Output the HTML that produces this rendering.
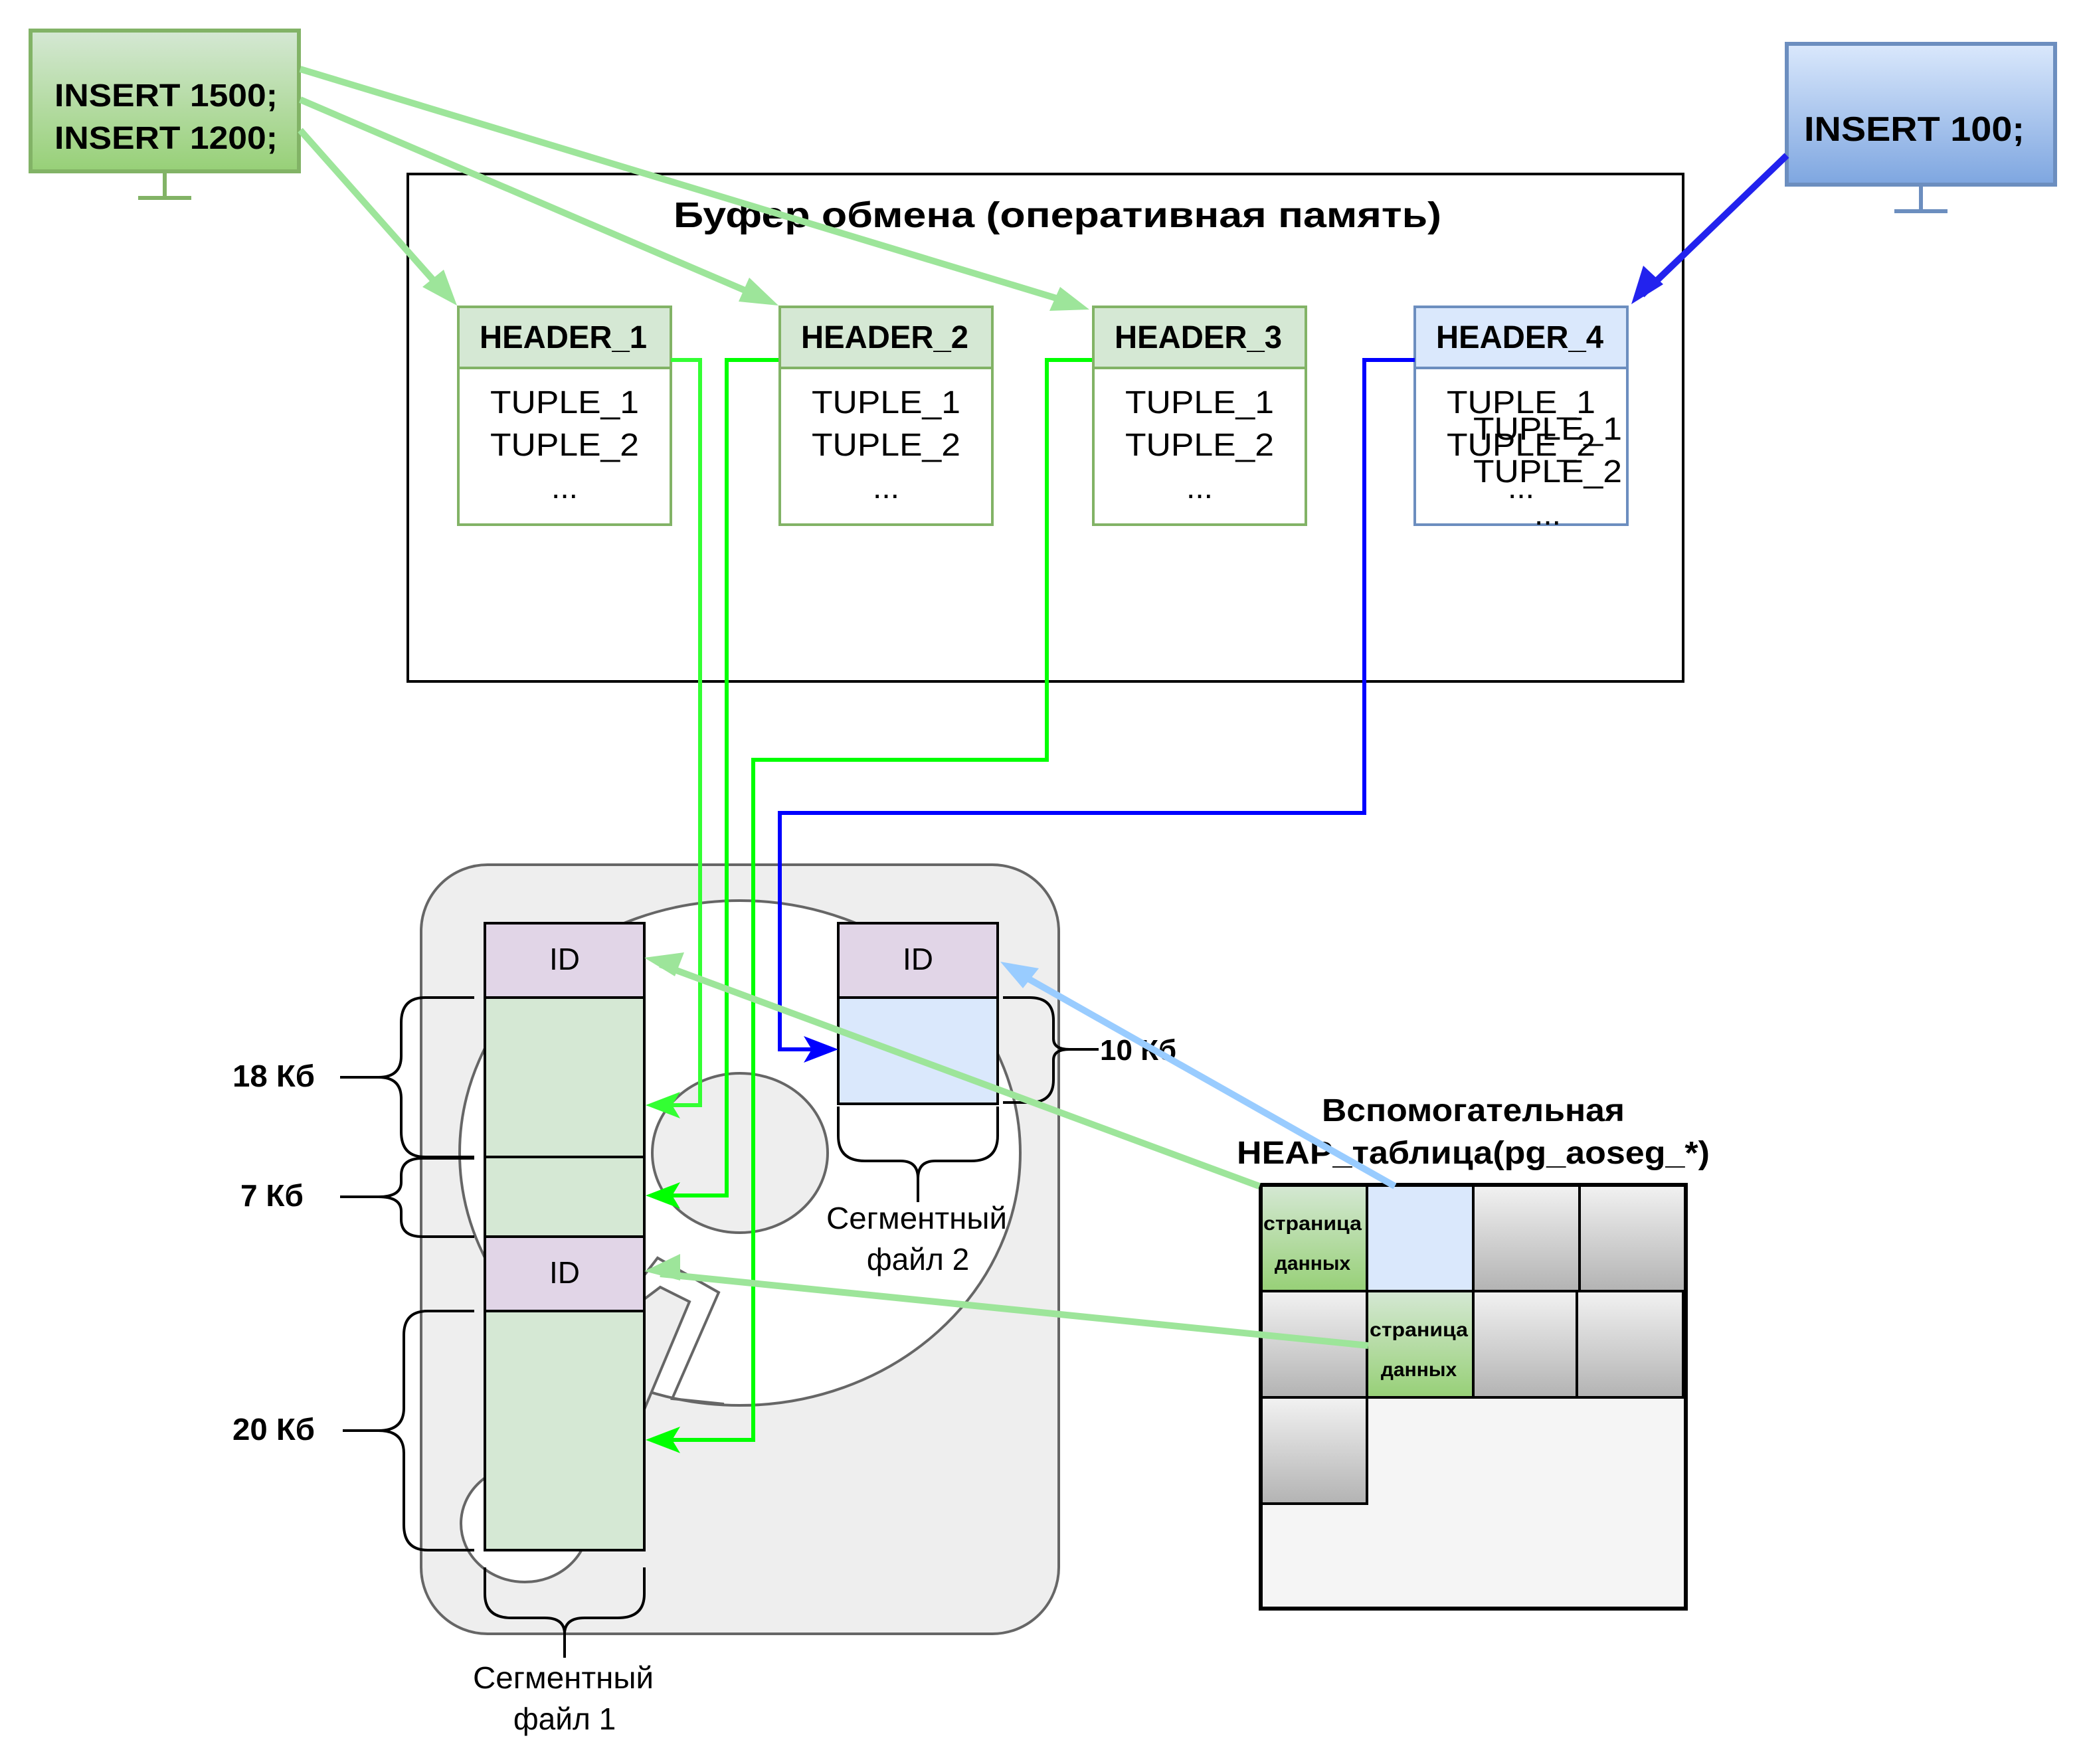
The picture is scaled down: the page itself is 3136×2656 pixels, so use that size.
<!DOCTYPE html>
<html><head><meta charset="utf-8"><style>html,body{margin:0;padding:0;background:#fff}svg{display:block}text{font-family:"Liberation Sans",sans-serif}</style></head><body>
<svg width="3136" height="2656" viewBox="0 0 1568 1328" xmlns="http://www.w3.org/2000/svg">
<defs>
<linearGradient id="gg" x1="0" y1="0" x2="0" y2="1"><stop offset="0" stop-color="#d5e8d4"/><stop offset="1" stop-color="#97d077"/></linearGradient>
<linearGradient id="gb" x1="0" y1="0" x2="0" y2="1"><stop offset="0" stop-color="#dae8fc"/><stop offset="1" stop-color="#7ea6e0"/></linearGradient>
<linearGradient id="gr" x1="0" y1="0" x2="0" y2="1"><stop offset="0" stop-color="#f2f2f2"/><stop offset="1" stop-color="#b3b3b3"/></linearGradient>
</defs>
<rect x="307" y="131" width="960" height="382" fill="#fff" stroke="#000" stroke-width="2"/>
<text x="507" y="171" font-size="27" font-weight="bold" textLength="578" lengthAdjust="spacingAndGlyphs">Буфер обмена (оперативная память)</text>
<g font-size="24">
<g><rect x="345" y="231" width="160" height="164" fill="#fff" stroke="#82b366" stroke-width="2"/><rect x="345" y="231" width="160" height="46" fill="#d5e8d4" stroke="#82b366" stroke-width="2"/>
<text x="361" y="262" font-weight="bold" textLength="126" lengthAdjust="spacingAndGlyphs">HEADER_1</text><text x="369" y="311" textLength="112" lengthAdjust="spacingAndGlyphs">TUPLE_1</text><text x="369" y="343" textLength="112" lengthAdjust="spacingAndGlyphs">TUPLE_2</text><text x="425" y="375" text-anchor="middle">...</text></g>
<g><rect x="587" y="231" width="160" height="164" fill="#fff" stroke="#82b366" stroke-width="2"/><rect x="587" y="231" width="160" height="46" fill="#d5e8d4" stroke="#82b366" stroke-width="2"/>
<text x="603" y="262" font-weight="bold" textLength="126" lengthAdjust="spacingAndGlyphs">HEADER_2</text><text x="611" y="311" textLength="112" lengthAdjust="spacingAndGlyphs">TUPLE_1</text><text x="611" y="343" textLength="112" lengthAdjust="spacingAndGlyphs">TUPLE_2</text><text x="667" y="375" text-anchor="middle">...</text></g>
<g><rect x="823" y="231" width="160" height="164" fill="#fff" stroke="#82b366" stroke-width="2"/><rect x="823" y="231" width="160" height="46" fill="#d5e8d4" stroke="#82b366" stroke-width="2"/>
<text x="839" y="262" font-weight="bold" textLength="126" lengthAdjust="spacingAndGlyphs">HEADER_3</text><text x="847" y="311" textLength="112" lengthAdjust="spacingAndGlyphs">TUPLE_1</text><text x="847" y="343" textLength="112" lengthAdjust="spacingAndGlyphs">TUPLE_2</text><text x="903" y="375" text-anchor="middle">...</text></g>
<g><rect x="1065" y="231" width="160" height="164" fill="#fff" stroke="#6c8ebf" stroke-width="2"/><rect x="1065" y="231" width="160" height="46" fill="#dae8fc" stroke="#6c8ebf" stroke-width="2"/>
<text x="1081" y="262" font-weight="bold" textLength="126" lengthAdjust="spacingAndGlyphs">HEADER_4</text><text x="1089" y="311" textLength="112" lengthAdjust="spacingAndGlyphs">TUPLE_1</text><text x="1089" y="343" textLength="112" lengthAdjust="spacingAndGlyphs">TUPLE_2</text><text x="1145" y="375" text-anchor="middle">...</text>
<text x="1109" y="331" textLength="112" lengthAdjust="spacingAndGlyphs">TUPLE_1</text><text x="1109" y="363" textLength="112" lengthAdjust="spacingAndGlyphs">TUPLE_2</text><text x="1165" y="395" text-anchor="middle">...</text></g>
</g>
<rect x="23" y="23" width="202" height="106" fill="url(#gg)" stroke="#82b366" stroke-width="3"/>
<line x1="124" y1="129" x2="124" y2="149" stroke="#82b366" stroke-width="3"/><line x1="104" y1="149" x2="144" y2="149" stroke="#82b366" stroke-width="3"/>
<text x="41" y="80" font-size="24" font-weight="bold" textLength="168" lengthAdjust="spacingAndGlyphs">INSERT 1500;</text>
<text x="41" y="112" font-size="24" font-weight="bold" textLength="168" lengthAdjust="spacingAndGlyphs">INSERT 1200;</text>
<rect x="1345" y="33" width="202" height="106" fill="url(#gb)" stroke="#6c8ebf" stroke-width="3"/>
<line x1="1446" y1="139" x2="1446" y2="159" stroke="#6c8ebf" stroke-width="3"/><line x1="1426" y1="159" x2="1466" y2="159" stroke="#6c8ebf" stroke-width="3"/>
<text x="1358" y="106" font-size="26" font-weight="bold" textLength="166" lengthAdjust="spacingAndGlyphs">INSERT 100;</text>
<rect x="317" y="651" width="480" height="579" rx="50" fill="#eeeeee" stroke="#666" stroke-width="2"/>
<ellipse cx="557" cy="868" rx="211" ry="190" fill="#fff" stroke="#666" stroke-width="2"/>
<ellipse cx="557" cy="868" rx="66" ry="60" fill="#eeeeee" stroke="#666" stroke-width="2"/>
<ellipse cx="395" cy="1147" rx="48" ry="44" fill="#fff" stroke="#666" stroke-width="2"/>
<polygon points="485,1065 485,978 497,969 519,980 485,1061" fill="#eeeeee" stroke="#666" stroke-width="2"/>
<polyline points="485,960 495,947 541,973 506,1053 545,1057" fill="none" stroke="#666" stroke-width="2"/>
<g stroke="#000" stroke-width="2">
<rect x="365" y="695" width="120" height="56" fill="#e1d5e7"/>
<rect x="365" y="751" width="120" height="120" fill="#d5e8d4"/>
<rect x="365" y="871" width="120" height="60" fill="#d5e8d4"/>
<rect x="365" y="931" width="120" height="56" fill="#e1d5e7"/>
<rect x="365" y="987" width="120" height="180" fill="#d5e8d4"/>
<rect x="631" y="695" width="120" height="56" fill="#e1d5e7"/>
<rect x="631" y="751" width="120" height="80" fill="#dae8fc"/>
</g>
<text x="425" y="730" font-size="23" text-anchor="middle">ID</text>
<text x="425" y="966" font-size="23" text-anchor="middle">ID</text>
<text x="691" y="730" font-size="23" text-anchor="middle">ID</text>
<g fill="none" stroke="#000" stroke-width="2">
<path d="M357,751 H320 Q302,751 302,770 V795 Q302,811 285,811 H256 M285,811 Q302,811 302,827 V852 Q302,871 320,871 H357"/>
<path d="M357,872 H318 Q302,872 302,885 V890 Q302,901 285,901 H256 M285,901 Q302,901 302,912 V918 Q302,931 318,931 H357"/>
<path d="M357,987 H322 Q304,987 304,1005 V1060 Q304,1077 285,1077 H258 M285,1077 Q304,1077 304,1094 V1148 Q304,1167 322,1167 H357"/>
<path d="M365,1180 V1200 Q365,1218 385,1218 H410 Q425,1218 425,1230 V1248 M425,1230 Q425,1218 440,1218 H465 Q485,1218 485,1200 V1180"/>
<path d="M631,833 V855 Q631,874 651,874 H678 Q691,874 691,887 V905 M691,887 Q691,874 704,874 H731 Q751,874 751,855 V833"/>
<path d="M755,751 H775 Q793,751 793,768 V782 Q793,790 805,790 H827 M805,790 Q793,790 793,798 V813 Q793,830 775,830 H755"/>
</g>
<text x="175" y="818" font-size="23" font-weight="bold" textLength="62" lengthAdjust="spacingAndGlyphs">18 Кб</text>
<text x="181" y="908" font-size="23" font-weight="bold">7 Кб</text>
<text x="175" y="1084" font-size="23" font-weight="bold" textLength="62" lengthAdjust="spacingAndGlyphs">20 Кб</text>
<text x="828" y="798" font-size="22" font-weight="bold">10 Кб</text>
<text x="356" y="1271" font-size="23" textLength="136" lengthAdjust="spacingAndGlyphs">Сегментный</text>
<text x="425" y="1302" font-size="23" text-anchor="middle">файл 1</text>
<text x="622" y="925" font-size="23" textLength="136" lengthAdjust="spacingAndGlyphs">Сегментный</text>
<text x="691" y="956" font-size="23" text-anchor="middle">файл 2</text>
<text x="995" y="844" font-size="24" font-weight="bold" textLength="228" lengthAdjust="spacingAndGlyphs">Вспомогательная</text>
<text x="931" y="876" font-size="24" font-weight="bold" textLength="356" lengthAdjust="spacingAndGlyphs">HEAP_таблица(pg_aoseg_*)</text>
<rect x="949" y="892" width="320" height="319" fill="#f5f5f5" stroke="#000" stroke-width="3"/>
<g stroke="#000" stroke-width="2">
<rect x="949" y="892" width="80" height="80" fill="url(#gg)"/>
<rect x="1029" y="892" width="80" height="80" fill="#dae8fc"/>
<rect x="1109" y="892" width="80" height="80" fill="url(#gr)"/>
<rect x="1189" y="892" width="80" height="80" fill="url(#gr)"/>
<rect x="949" y="972" width="80" height="80" fill="url(#gr)"/>
<rect x="1029" y="972" width="80" height="80" fill="url(#gg)"/>
<rect x="1109" y="972" width="78" height="80" fill="url(#gr)"/>
<rect x="1187" y="972" width="80" height="80" fill="url(#gr)"/>
<rect x="949" y="1052" width="80" height="80" fill="url(#gr)"/>
</g>
<rect x="949" y="892" width="320" height="319" fill="none" stroke="#000" stroke-width="3"/>
<g font-size="15" font-weight="bold">
<text x="951" y="926" textLength="74" lengthAdjust="spacingAndGlyphs">страница</text><text x="988" y="956" text-anchor="middle">данных</text>
<text x="1031" y="1006" textLength="74" lengthAdjust="spacingAndGlyphs">страница</text><text x="1068" y="1036" text-anchor="middle">данных</text>
</g>
<g fill="none" stroke-width="3">
<polyline points="505,271 527,271 527,832 495,832" stroke="#33ff33"/>
<polyline points="586,271 547,271 547,900 495,900" stroke="#00ff00"/>
<polyline points="822,271 788,271 788,572 567,572 567,1084 495,1084" stroke="#00ff00"/>
<polyline points="1065,271 1027,271 1027,612 587,612 587,790 620,790" stroke="#0000ff"/>
</g>
<g stroke-width="5" fill="none">
<line x1="226" y1="52" x2="810" y2="229" stroke="#9de59a"/>
<line x1="226" y1="75" x2="578" y2="226" stroke="#9de59a"/>
<line x1="226" y1="98" x2="336" y2="222" stroke="#9de59a"/>
<line x1="1345" y1="117" x2="1236" y2="222" stroke="#2222ee"/>
<line x1="948" y1="893" x2="497" y2="726" stroke="#9de59a"/>
<line x1="1030" y1="1013" x2="497" y2="959" stroke="#9de59a"/>
<line x1="1050" y1="893" x2="762" y2="730" stroke="#99ccff"/>
</g>
<g>
<polygon points="820,233 790,234 798,216" fill="#9de59a"/>
<polygon points="586,230 556,227 564,209" fill="#9de59a"/>
<polygon points="344,230 318,216 334,203" fill="#9de59a"/>
<polygon points="1228,229 1237,200 1252,214" fill="#2222ee"/>
<polygon points="485,721 515,717 508,735" fill="#9de59a"/>
<polygon points="485,957 512,944 512,964" fill="#9de59a"/>
<polygon points="753,724 782,729 770,744" fill="#99ccff"/>
<polygon points="486,832 512,822 506,832 512,842" fill="#33ff33"/>
<polygon points="486,900 512,890 506,900 512,910" fill="#00ff00"/>
<polygon points="486,1084 512,1074 506,1084 512,1094" fill="#00ff00"/>
<polygon points="631,790 605,780 611,790 605,800" fill="#0000ff"/>
</g>
</svg>
</body></html>
